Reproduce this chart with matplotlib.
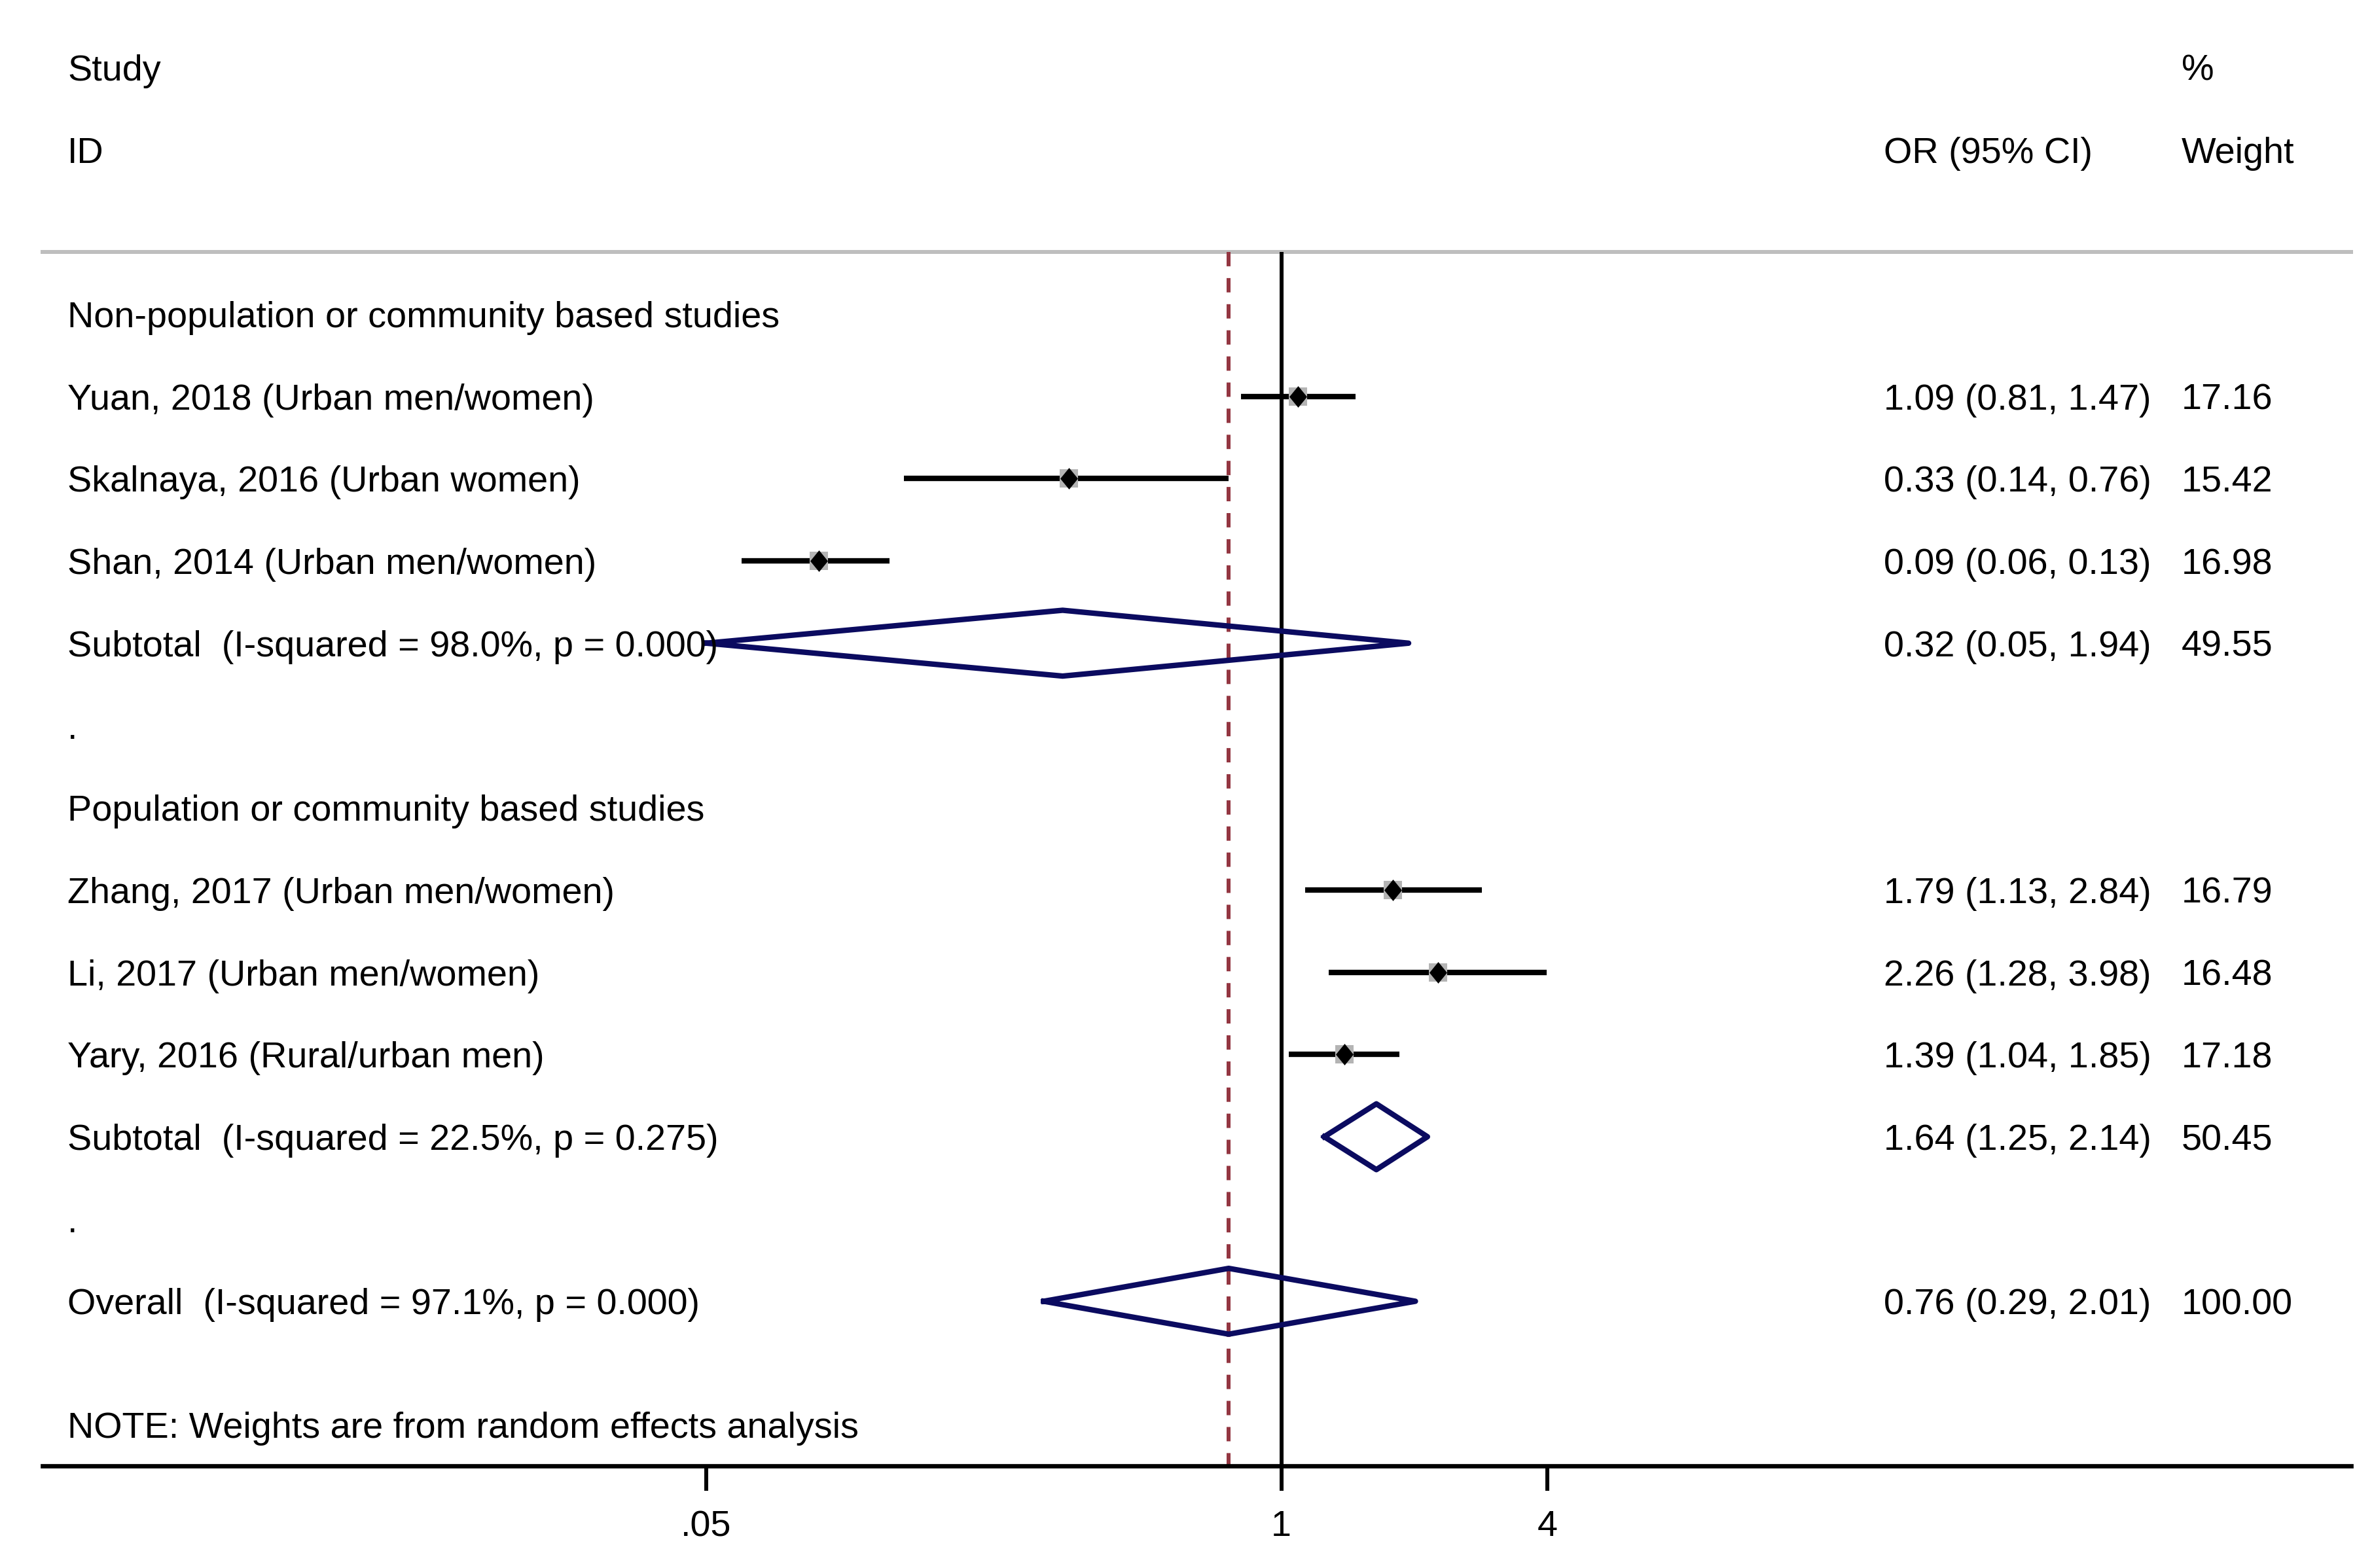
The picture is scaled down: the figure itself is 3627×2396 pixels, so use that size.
import matplotlib; matplotlib.use('Agg')
import matplotlib.pyplot as plt
from matplotlib.transforms import blended_transform_factory
import numpy as np

plt.rcParams['font.family'] = ['Liberation Sans', 'DejaVu Sans']
FS = 13.4
NAVY, MAROON, BOXGREY, LINEGREY = '#0b0b60', '#933641', '#b4b4b4', '#bebebe'

# ---- data -------------------------------------------------------------------
g1_title = 'Non-population or community based studies'
g1_labels = ['Yuan, 2018 (Urban men/women)', 'Skalnaya, 2016 (Urban women)',
             'Shan, 2014 (Urban men/women)']
g1_or = [1.09, 0.33, 0.09]
g1_lo = [0.81, 0.14, 0.06]
g1_hi = [1.47, 0.76, 0.13]
g1_w = [17.16, 15.42, 16.98]
g1_sub_label = 'Subtotal  (I-squared = 98.0%, p = 0.000)'
g1_sub = [0.32, 0.05, 1.94, 49.55]

g2_title = 'Population or community based studies'
g2_labels = ['Zhang, 2017 (Urban men/women)', 'Li, 2017 (Urban men/women)',
             'Yary, 2016 (Rural/urban men)']
g2_or = [1.79, 2.26, 1.39]
g2_lo = [1.13, 1.28, 1.04]
g2_hi = [2.84, 3.98, 1.85]
g2_w = [16.79, 16.48, 17.18]
g2_sub_label = 'Subtotal  (I-squared = 22.5%, p = 0.275)'
g2_sub = [1.64, 1.25, 2.14, 50.45]

overall_label = 'Overall  (I-squared = 97.1%, p = 0.000)'
overall = [0.76, 0.29, 2.01, 100.00]
note = 'NOTE: Weights are from random effects analysis'
xticks = [0.05, 1, 4]
xticklabels = ['.05', '1', '4']

# ---- layout (pixels of the 3627x2396 canvas) ---------------------------------
W, H = 3627, 2396
X1, PX_PER_LN = 1957.7, 293.3          # position of OR=1 and log scale
AX_L, AX_R, AX_B = 65, 3592, 2240      # axis line extent
ROW0, ROW_H = 480, 125.7               # first row centre, row spacing
X_STUDY, X_OR, X_W = 103, 2878, 3333   # text column anchors


def px_to_or(px):
    return np.exp((px - X1) / PX_PER_LN)


def px_to_row(py):
    return (py - ROW0) / ROW_H


fig = plt.figure(figsize=(W / 300, H / 300), dpi=300)
ax = fig.add_axes([AX_L / W, 1 - AX_B / H, (AX_R - AX_L) / W, AX_B / H])
ax.set_xscale('log')
ax.set_xlim(px_to_or(AX_L), px_to_or(AX_R))
ax.set_ylim(px_to_row(AX_B), px_to_row(0))
for s in ('top', 'left', 'right'):
    ax.spines[s].set_visible(False)
ax.spines['bottom'].set_linewidth(1.6)
ax.set_yticks([])
ax.set_xticks(xticks)
ax.set_xticklabels(xticklabels)
ax.minorticks_off()
ax.tick_params(axis='x', direction='out', length=9.1, width=1.44, pad=7,
               labelsize=FS, color='black')

tr = blended_transform_factory(fig.transFigure, ax.transData)


def put(x, row, s):
    ax.text(x / W, row, s, transform=tr, fontsize=FS, ha='left',
            va='center_baseline', clip_on=False)


def fmt(o, lo, hi):
    return f'{o:.2f} ({lo:.2f}, {hi:.2f})'


# headers
put(X_STUDY, -3, 'Study')
put(X_STUDY, -2, 'ID')
put(X_OR, -2, 'OR (95% CI)')
put(X_W, -3, '%')
put(X_W, -2, 'Weight')

gray_row = px_to_row(385)
ax.axhline(gray_row, color=LINEGREY, lw=1.44, clip_on=False)
ax.vlines(1, gray_row, px_to_row(AX_B), color='black', lw=1.44)
ax.vlines(overall[0], gray_row, px_to_row(AX_B), color=MAROON, lw=1.44,
          linestyles=(0, (3.65, 3.0)))

diamond_marker = [(0, 1), (0.82, 0), (0, -1), (-0.82, 0), (0, 1)]


def study_rows(start, labels, ors, los, his, ws):
    for i, (lab, o, lo, hi, w) in enumerate(zip(labels, ors, los, his, ws)):
        r = start + i
        put(X_STUDY, r, lab)
        put(X_OR, r, fmt(o, lo, hi))
        put(X_W, r, f'{w:.2f}')
        ax.plot([lo, hi], [r, r], color='black', lw=2.0, solid_capstyle='butt')
        ax.plot(o, r, marker='s', ms=6.5, mew=0, color=BOXGREY, ls='none')
        ax.plot(o, r, marker=diamond_marker, ms=7.9, mew=0, color='black',
                ls='none')


def pooled(r, label, vals):
    o, lo, hi, w = vals
    put(X_STUDY, r, label)
    put(X_OR, r, fmt(o, lo, hi))
    put(X_W, r, f'{w:.2f}')
    ax.plot([lo, o, hi, o, lo], [r, r - 0.4, r, r + 0.4, r], color=NAVY,
            lw=2.0, solid_joinstyle='round')


put(X_STUDY, 0, g1_title)
study_rows(1, g1_labels, g1_or, g1_lo, g1_hi, g1_w)
pooled(4, g1_sub_label, g1_sub)
put(X_STUDY, 5, '.')
put(X_STUDY, 6, g2_title)
study_rows(7, g2_labels, g2_or, g2_lo, g2_hi, g2_w)
pooled(10, g2_sub_label, g2_sub)
put(X_STUDY, 11, '.')
pooled(12, overall_label, overall)
put(X_STUDY, 13.5, note)

fig.savefig('out.png', dpi=300, facecolor='white')
